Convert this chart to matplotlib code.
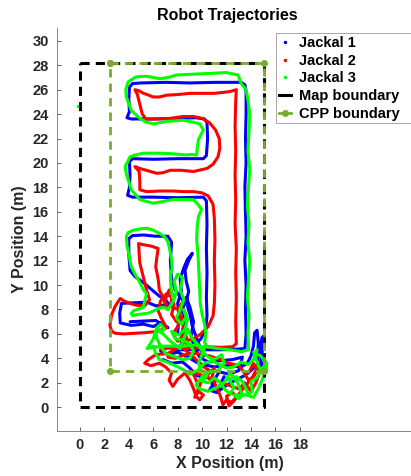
import numpy as np
import matplotlib
matplotlib.use('Agg')
import matplotlib.pyplot as plt
from matplotlib.lines import Line2D
from matplotlib.patches import Rectangle

plt.rcParams['font.family'] = ['Liberation Sans', 'DejaVu Sans']
plt.rcParams['font.weight'] = 'bold'

# ---- trajectory waypoints (x, y) in metres ----
# Jackal 1 (blue)
j1_main = [(7.6, 4.7), (8.5, 4.7), (10.0, 4.7), (11.5, 4.7), (12.8, 4.75), (13.5, 4.8),
           (13.6, 6.0), (13.55, 8), (13.6, 10), (13.5, 12), (13.6, 14), (13.55, 16), (13.5, 18),
           (13.6, 20), (13.55, 22), (13.6, 24), (13.6, 25.8), (13.5, 26.4), (13.2, 26.6),
           (11, 26.6), (9, 26.55), (7, 26.6), (5, 26.55), (4.3, 26.5), (4.05, 26.2), (4.0, 25.2),
           (4.05, 24.2), (3.85, 23.7), (4.2, 23.6), (6, 23.6), (8, 23.65), (9.5, 23.7), (10.2, 23.6),
           (10.4, 23.3), (10.45, 22), (10.35, 20.6), (10.1, 20.35), (8, 20.35), (6, 20.3),
           (4.3, 20.35), (4.05, 20.1), (4.1, 19), (4.05, 18), (3.9, 17.35), (4.3, 17.2), (6, 17.2),
           (8, 17.15), (10.1, 17.2), (10.35, 16.9), (10.4, 15), (10.35, 13), (10.4, 11), (10.35, 9),
           (10.4, 7.5), (10.3, 6.4), (9.9, 5.6), (9.5, 5.2)]
j1_loop = [(8.4, 8.8), (7.8, 9.6), (7.5, 10.5), (7.4, 12), (7.5, 13.5), (7.2, 14.0), (6.2, 14.0),
           (5.2, 14.1), (4.3, 14.05), (4.0, 13.8), (4.0, 12.5), (4.1, 11.2), (4.5, 10.7), (5.2, 10.2),
           (5.9, 9.6), (6.5, 9.1), (7.0, 8.8), (7.3, 8.4), (6.2, 8.3), (5.5, 8.6), (4.5, 8.55),
           (3.4, 8.5), (3.25, 7.7), (3.3, 6.9), (4.2, 6.7), (5.2, 6.8), (6.0, 6.6), (6.6, 6.9),
           (7.2, 6.5), (6.2, 7.1), (5.2, 7.05), (4.1, 7.0)]
j1_spike = [(8.0, 6.0), (8.1, 7.5), (8.0, 8.5), (8.3, 9.5), (8.2, 10.5), (8.5, 11.4), (8.8, 12.1),
            (9.2, 12.6), (8.9, 12.0), (8.6, 11.2), (8.7, 10.3), (8.9, 9.5), (8.7, 8.6), (9.0, 7.6),
            (9.2, 6.6), (9.5, 5.8), (9.8, 5.0), (10.1, 4.2)]
j1_bottom = [(6.8, 3.9), (7.5, 3.6), (8.4, 3.7), (9.0, 3.2), (9.5, 2.6), (10.5, 2.4), (11.0, 2.0),
             (10.6, 1.4), (11.2, 1.2), (12.0, 1.8), (12.7, 2.2), (13.5, 2.6), (14.0, 3.0),
             (14.4, 3.4), (14.9, 3.6), (15.0, 3.0), (14.8, 3.8), (15.0, 5.0), (15.1, 5.9),
             (14.9, 5.7), (14.7, 4.6), (14.5, 3.8), (14.6, 5.2), (14.5, 6.3), (14.3, 6.1),
             (14.2, 5.0), (14.0, 4.2), (13.7, 3.6), (13.2, 3.3), (12.0, 3.4), (11.0, 3.3),
             (10.0, 3.5), (9.5, 3.7), (9.0, 4.0), (8.2, 4.4), (7.6, 4.7)]
j1_extra = [(6.6, 4.6), (7.2, 4.3), (8.0, 4.5), (8.3, 5.2), (8.4, 6.3), (8.6, 7.2), (8.4, 8.0),
            (8.7, 9.0), (9.0, 8.2), (9.3, 7.0), (9.1, 5.8), (9.4, 4.8), (9.8, 4.1), (10.5, 3.7),
            (11.5, 3.8), (12.5, 3.9), (13.3, 4.1), (13.0, 3.0), (12.2, 2.7), (11.4, 2.9),
            (10.8, 1.9), (11.3, 1.5), (11.8, 2.5)]

# Jackal 2 (red)
j2_main = [(6.6, 4.75), (7.4, 4.85), (8.5, 4.8), (9.5, 4.85), (10.4, 4.95), (11.5, 4.9),
           (12.5, 4.95), (12.8, 5.2), (12.75, 7), (12.8, 9), (12.75, 11), (12.8, 13), (12.7, 15),
           (12.75, 17), (12.7, 19), (12.75, 21), (12.7, 23), (12.75, 25), (12.8, 26.0),
           (12.3, 25.85), (11.9, 25.8), (11.0, 25.7), (10.2, 25.7), (9.0, 25.7), (8.0, 25.6),
           (7.1, 25.55), (6.5, 25.4), (6.0, 25.4), (5.5, 25.6), (5.2, 25.7), (4.85, 25.9),
           (4.5, 26.0), (4.7, 25.6), (4.85, 25.0), (5.0, 24.4), (5.1, 24.0), (5.4, 23.6),
           (6.2, 23.6), (7.4, 23.65), (8.4, 23.8), (9.3, 23.8), (10.0, 23.65), (10.6, 23.3),
           (11.1, 22.7), (11.4, 22.0), (11.45, 21.2), (11.3, 20.5), (10.9, 19.9), (10.4, 19.55),
           (9.3, 19.3), (8.3, 19.4), (7.4, 19.4), (6.8, 19.2), (6.3, 19.15), (5.6, 19.35),
           (4.9, 19.55), (4.5, 19.7), (4.85, 19.3), (4.9, 18.5), (4.9, 17.8), (5.45, 17.65),
           (6.5, 17.7), (7.6, 17.7), (8.5, 17.65), (9.3, 17.65), (10.0, 17.55), (10.5, 17.3),
           (10.9, 16.6), (11.0, 15.5), (11.05, 13.7), (11.0, 12), (11.05, 10), (11.0, 8.5),
           (10.9, 7.5), (10.5, 6.6), (9.9, 6.0), (9.3, 5.6), (8.6, 5.4)]
j2_loop = [(7.2, 8.0), (6.8, 9.0), (6.5, 9.6), (6.4, 10.5), (6.2, 11.5), (6.3, 12.3), (6.4, 13.0),
           (5.8, 13.2), (5.2, 13.3), (4.8, 13.4), (4.85, 12.5), (4.9, 11.8), (5.2, 10.6),
           (5.45, 9.6), (5.7, 8.8), (5.3, 8.3), (4.6, 8.35), (4.1, 8.5), (3.6, 8.7), (3.3, 8.9),
           (2.9, 8.3), (2.6, 7.6), (2.45, 6.7), (2.6, 6.2), (2.9, 6.05), (3.6, 6.0), (4.4, 6.05),
           (5.3, 6.1), (6.3, 6.2), (7.1, 6.5), (6.7, 7.2), (6.4, 7.9), (6.6, 8.7), (7.1, 9.3),
           (7.5, 9.0), (7.7, 8.4), (7.5, 7.6), (7.9, 7.0), (8.3, 7.4), (8.0, 6.6), (7.6, 6.0),
           (8.0, 5.4), (8.5, 5.9), (8.3, 5.0)]
j2_bottom = [(8.6, 5.4), (8.2, 5.0), (7.2, 4.4), (6.2, 4.3), (5.6, 3.9), (5.3, 3.6), (5.8, 3.4),
             (6.5, 3.6), (7.0, 3.3), (7.5, 2.8), (7.3, 2.2), (7.6, 1.7), (8.0, 2.3), (8.6, 2.8),
             (9.0, 2.2), (9.3, 1.5), (9.5, 0.9), (9.8, 0.6), (10.1, 1.0), (9.7, 1.3), (9.4, 0.8),
             (9.9, 2.0), (10.6, 2.8), (11.0, 3.2), (10.8, 2.4), (11.2, 1.6), (11.5, 0.9),
             (11.7, 0.2), (12.0, 0.6), (12.4, 0.4), (12.8, 0.8), (12.5, 1.2), (12.0, 0.9),
             (12.2, 0.1), (12.6, 0.5), (13.1, 1.2), (13.6, 1.8), (14.1, 2.4), (14.5, 3.2),
             (14.3, 2.6), (13.8, 2.2), (13.4, 2.9), (13.0, 3.4), (12.2, 3.6), (11.5, 3.9),
             (10.6, 4.2), (9.5, 4.4), (8.6, 4.3), (7.8, 4.0), (7.2, 4.1)]
j2_extra = [(6.9, 8.6), (7.3, 9.6), (7.6, 9.2), (7.4, 8.3), (8.0, 8.0), (8.4, 8.6), (8.2, 7.6),
            (8.8, 5.4), (8.6, 4.7), (9.4, 4.0), (10.0, 3.4), (10.6, 3.0), (10.2, 2.4), (9.6, 2.0),
            (9.2, 2.9), (13.0, 1.5), (13.5, 2.0), (14.0, 1.3), (14.4, 2.0), (14.7, 2.8),
            (14.2, 3.6), (13.8, 2.8)]

# Jackal 3 (green)
j3_main = [(13.2, 4.55), (13.8, 4.7), (13.75, 6), (13.85, 7.5), (13.7, 9), (13.8, 10.5),
           (13.9, 12), (13.75, 13.5), (13.85, 15), (13.7, 16.5), (13.8, 18), (13.9, 19.5),
           (13.75, 21), (13.85, 22.7), (13.9, 24.0), (13.75, 25.2), (13.6, 26.0), (13.2, 26.5),
           (12.95, 27.2), (12.0, 27.4), (10.9, 27.35), (9.8, 27.3), (8.9, 27.25), (7.9, 27.2),
           (7.2, 27.0), (6.55, 26.9), (6.0, 27.0), (5.45, 27.1), (4.6, 27.05), (3.95, 26.65),
           (3.75, 26.0), (3.8, 25.4), (4.2, 24.3), (4.9, 23.65), (5.4, 23.35), (6.0, 23.2),
           (7.1, 23.4), (8.45, 23.5), (9.2, 23.35), (9.8, 23.2), (10.1, 22.7), (9.85, 22.2),
           (9.7, 21.9), (9.6, 21.2), (9.55, 20.65), (9.1, 20.7), (8.7, 20.65), (7.6, 20.75),
           (6.55, 20.8), (5.2, 20.8), (4.5, 20.65), (4.1, 20.5), (3.7, 19.7), (3.8, 19.1),
           (3.95, 18.6), (4.2, 17.8), (4.9, 17.0), (6.0, 16.7), (6.8, 16.85), (7.6, 17.0),
           (8.5, 17.0), (9.3, 17.0), (9.7, 16.55), (9.95, 16.2), (9.7, 15.6), (9.6, 14.8),
           (9.55, 13.7), (9.65, 12.7), (9.7, 11.8), (9.75, 10.7), (9.8, 9.6), (9.85, 8.5),
           (10.0, 7.6), (10.2, 6.8), (10.3, 6.0), (10.2, 5.3), (10.4, 4.95), (11.3, 4.8),
           (12.3, 4.7), (13.2, 4.55)]
j3_loop = [(7.6, 8.9), (7.45, 9.8), (7.4, 10.7), (7.55, 11.4), (7.5, 12.05), (7.35, 12.9),
           (7.2, 13.55), (6.9, 14.0), (6.55, 14.2), (6.0, 14.5), (5.45, 14.65), (4.9, 14.6),
           (4.4, 14.5), (3.95, 14.3), (3.8, 14.0), (3.85, 13.2), (4.0, 12.6), (4.1, 12.0),
           (4.2, 11.5), (4.5, 10.9), (4.8, 10.4), (5.2, 9.6), (5.45, 9.3), (5.3, 8.7), (5.2, 8.2),
           (4.7, 8.0), (4.4, 7.9), (4.2, 7.7), (4.3, 7.5), (4.8, 7.6), (5.6, 7.7), (6.3, 8.0),
           (6.8, 8.2), (7.2, 8.0)]
j3_mess = [(7.2, 8.0), (7.6, 8.6), (7.9, 9.4), (7.7, 10.3), (8.0, 10.9), (8.4, 10.6), (8.2, 9.6),
           (8.5, 8.8), (8.2, 8.0), (7.9, 7.3), (8.3, 6.8), (8.7, 7.4), (8.5, 8.0), (8.8, 7.2),
           (8.6, 6.4), (8.1, 5.9), (7.5, 6.2), (7.8, 5.6), (8.4, 5.5), (9.0, 5.2), (9.3, 4.6),
           (9.0, 4.0), (8.4, 3.9), (7.6, 4.2), (7.0, 4.4), (6.6, 5.0), (6.3, 5.6), (6.2, 6.3),
           (6.0, 5.6), (5.7, 5.1), (5.5, 4.8), (6.0, 4.9), (6.8, 5.0), (7.6, 5.0), (8.5, 5.0),
           (9.5, 5.1), (10.2, 4.9), (10.0, 4.3), (9.7, 3.6), (9.9, 3.1), (10.4, 2.6), (10.0, 2.1),
           (10.5, 2.0), (11.0, 2.4), (11.5, 2.0), (11.9, 1.4), (12.3, 1.1), (12.6, 1.6),
           (12.2, 2.3), (12.8, 2.5), (13.3, 2.1), (13.6, 1.5), (13.8, 1.0), (14.1, 1.3),
           (14.0, 2.1), (14.5, 2.4), (14.8, 3.0), (15.1, 3.4), (15.3, 3.1), (15.0, 2.7),
           (14.6, 3.4), (14.3, 4.3), (14.5, 4.7), (14.2, 3.9), (13.8, 3.5), (13.2, 3.7),
           (12.6, 3.3), (12.0, 3.2), (11.4, 3.5), (10.8, 3.8), (10.2, 3.6), (9.6, 3.0), (9.0, 2.7),
           (8.4, 3.1), (7.8, 3.4), (7.1, 3.7), (6.5, 3.9), (6.2, 4.4), (6.0, 5.0)]
j3_extra = [(6.3, 6.5), (6.6, 6.1), (6.9, 6.4), (6.6, 6.8), (6.3, 6.5), (6.9, 5.9), (7.4, 5.4),
            (8.2, 4.8), (8.8, 6.4), (9.2, 5.6), (9.6, 5.2), (10.0, 4.6), (10.5, 4.1), (11.0, 3.9),
            (11.6, 4.3), (11.8, 3.6), (11.3, 3.0), (10.6, 2.9), (10.0, 2.5), (9.5, 1.8),
            (9.8, 1.5), (10.5, 1.3), (11.2, 1.6), (11.8, 2.0), (12.3, 2.8), (12.9, 2.0),
            (13.3, 1.0), (13.0, 0.7), (12.6, 1.0), (13.6, 1.0), (14.2, 0.8), (14.6, 1.5),
            (14.9, 2.2), (15.2, 2.9), (15.3, 3.6), (14.8, 4.2), (14.2, 4.5)]
j3_stray = [(-0.2, 24.7)]

# boundaries
map_x = [0, 15.05, 15.05, 0, 0]
map_y = [28.2, 28.2, 0, 0, 28.2]
cpp_x = [2.45, 15.1, 15.1, 2.45, 2.45]
cpp_y = [28.2, 28.2, 3.0, 3.0, 28.2]

legend_labels = ['Jackal 1', 'Jackal 2', 'Jackal 3', 'Map boundary', 'CPP boundary']


def join(*segs):
    xs, ys = [], []
    for s in segs:
        a = np.array(s, dtype=float)
        xs += list(a[:, 0]) + [np.nan]
        ys += list(a[:, 1]) + [np.nan]
    return np.array(xs), np.array(ys)


W, H = 411, 476
fig = plt.figure(figsize=(W / 100, H / 100), dpi=100)
ax = fig.add_axes([57 / W, 45 / H, 354 / W, 403 / H])

cpp_green = (0.466, 0.674, 0.188)
lw = 2.2
for segs, col in [((j1_main, j1_loop, j1_spike, j1_bottom, j1_extra), 'b'),
                  ((j2_main, j2_loop, j2_bottom, j2_extra), 'r'),
                  ((j3_main, j3_loop, j3_mess, j3_extra), (0, 1, 0))]:
    x, y = join(*segs)
    ax.plot(x, y, color=col, lw=lw, solid_joinstyle='round', solid_capstyle='round')
sx, sy = join(j3_stray)
ax.plot(sx, sy, '.', color=(0, 1, 0), ms=3)

ax.plot(map_x, map_y, color='k', lw=2.2, linestyle=(0, (3, 2)))
ax.plot(cpp_x, cpp_y, color=cpp_green, lw=2.0, linestyle=(0, (3, 2.2)),
        marker='o', ms=4)

ax.set_xlim(-1.88, 27.1)
ax.set_ylim(-1.95, 31.05)
ax.set_xticks(np.arange(0, 19, 2))
ax.set_yticks(np.arange(0, 31, 2))
for s in ['top', 'right']:
    ax.spines[s].set_visible(False)
for s in ['left', 'bottom']:
    ax.spines[s].set_color('0.45')
    ax.spines[s].set_linewidth(0.6)
ax.tick_params(direction='in', length=3, width=0.6, color='0.3', labelsize=10.5,
               labelcolor='#262626')
ax.tick_params(axis='y', pad=6)
ax.tick_params(axis='x', pad=5)
for lab in ax.get_xticklabels() + ax.get_yticklabels():
    lab.set_fontweight('bold')

ax.set_xlabel('X Position (m)', fontsize=11.5, fontweight='bold', color='#262626')
ax.set_ylabel('Y Position (m)', fontsize=11.5, fontweight='bold', color='#262626')
ax.xaxis.set_label_coords(0.487, -0.062)
ax.yaxis.set_label_coords(-0.085, 0.476)
fig.text(227.5 / W, 1 - 15.7 / H, 'Robot Trajectories', ha='center', va='center',
         fontsize=11.5, fontweight='bold')

# legend frame runs off the right edge, as in the original
box = Rectangle((276 / W, 1 - 123 / H), 140 / W, 90 / H, transform=fig.transFigure,
                facecolor='white', edgecolor='0.6', lw=0.6, clip_on=False, zorder=4.5)
ax.add_patch(box)

handles = [Line2D([], [], ls='none', marker='.', color='b', ms=3),
           Line2D([], [], ls='none', marker='.', color='r', ms=3),
           Line2D([], [], ls='none', marker='.', color=(0, 1, 0), ms=3),
           Line2D([], [], color='k', lw=2.2),
           Line2D([], [], color=cpp_green, lw=2.0, marker='o', ms=4)]
leg = ax.legend(handles, legend_labels, loc='upper left',
                bbox_to_anchor=(276 / W, 1 - 33 / H), bbox_transform=fig.transFigure,
                fontsize=10.5, frameon=False, borderpad=0.2, labelspacing=0.26,
                handlelength=0.85, handletextpad=0.5, borderaxespad=0)
leg.set_zorder(5)
for t in leg.get_texts():
    t.set_fontweight('bold')

fig.savefig('out.png', dpi=100)
